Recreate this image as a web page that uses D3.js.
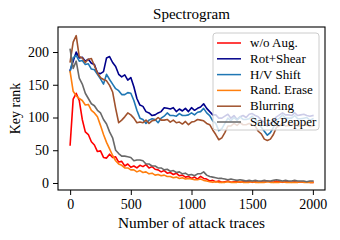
<!DOCTYPE html>
<html><head><meta charset="utf-8">
<script src="https://cdn.jsdelivr.net/npm/d3@7"></script>
<style>body{margin:0;background:#fff}svg{display:block}text{font-family:"Liberation Serif","Times New Roman",serif;fill:#000}</style>
</head><body>
<script>
const title = "Spectrogram";
const xLabel = "Number of attack traces";
const yLabel = "Key rank";
const xTicks = [0, 500, 1000, 1500, 2000];
const yTicks = [0, 50, 100, 150, 200];
const traces = d3.range(0, 2001, 25); // sample positions (number of traces)
const seriesNames = ["w/o Aug.", "Rot+Shear", "H/V Shift", "Rand. Erase", "Blurring", "Salt&Pepper"];
const seriesColors = ["#ff0000", "#00008b", "#1f77b4", "#ff7f0e", "#a0522d", "#696969"];

const woAug = [58,128,137,126,97,78,74,63,58,48,
 49,39,38,44,39,40,32,33,26,29,
 24,26,23,27,25,28,23,25,21,20,
 17,19,15,16,13,15,11,12,9,10,
 7,9,6,10,7,6,3,4,2,3,
 1,2,3,1,2,2,1,2,2,3,
 1,2,1,2,1,3,2,1,3,2,
 1,2,2,1,2,1,2,1,2,1,1];
const rotShear = [172,186,200,191,192,186,189,183,181,168,
 167,170,191,193,184,178,166,162,165,157,
 161,147,129,119,117,109,107,103,104,107,
 109,115,114,113,115,109,113,110,114,109,
 115,111,114,116,121,114,109,104,104,99,
 99,102,105,99,103,97,101,103,100,105,
 106,103,101,96,93,87,91,96,101,104,
 107,104,104,103,107,103,104,105,103,102,103];
const hvShift = [170,191,195,186,187,181,182,174,173,166,
 159,151,166,158,151,144,141,135,135,138,
 137,126,111,99,97,91,96,98,97,92,
 99,102,107,103,103,102,106,103,103,104,
 107,104,108,109,114,107,103,95,91,80,
 83,91,99,95,100,96,101,97,97,98,
 102,97,93,85,79,73,77,85,96,99,
 104,99,99,99,103,98,98,99,100,96,98];
const randErase = [170,140,133,129,126,119,120,111,107,101,
 88,74,62,52,42,34,29,27,23,23,
 20,20,17,19,16,17,14,15,12,13,
 11,12,10,10,8,9,7,8,6,7,
 6,5,5,6,4,3,2,1,2,1,
 1,1,2,1,1,1,2,1,1,1,
 2,1,1,1,1,2,1,1,1,1,
 2,1,1,1,1,1,2,1,1,1,1];
const blurring = [185,215,225,193,191,184,189,190,179,168,
 161,158,156,149,139,114,92,96,101,107,
 104,99,92,93,92,96,91,95,96,100,
 96,96,97,93,96,92,93,90,94,89,
 93,94,97,96,95,91,89,81,74,66,
 69,77,87,87,91,88,92,89,89,91,
 89,87,79,75,67,65,67,74,85,87,
 91,87,88,88,91,87,88,88,89,86,87];
const saltPepper = [204,175,186,160,151,137,129,121,118,111,
 107,97,90,78,69,50,45,41,41,40,
 39,34,35,35,34,29,29,26,26,23,
 23,20,21,18,19,16,17,14,15,12,
 13,11,14,14,17,12,10,9,8,7,
 7,6,5,6,5,4,5,4,3,4,
 3,4,3,3,4,3,3,4,5,4,
 3,4,3,3,4,3,3,3,2,3,3];
const seriesValues = [woAug, rotShear, hvShift, randErase, blurring, saltPepper];

const W = 340, H = 240;
const L = 58, R = 325, T = 27, B = 190;
const svg = d3.select("body").append("svg").attr("width", W).attr("height", H);
const x = d3.scaleLinear().domain([-100, 2100]).range([L, R]);
const y = d3.scaleLinear().domain([-10.7, 238.2]).range([B, T]);

svg.append("defs").append("clipPath").attr("id", "clip")
  .append("rect").attr("x", L).attr("y", T).attr("width", R - L).attr("height", B - T);

const line = d3.line().x((d, i) => x(traces[i])).y(d => y(d));
const g = svg.append("g").attr("clip-path", "url(#clip)");
seriesValues.forEach((vals, k) => {
  g.append("path").attr("d", line(vals)).attr("fill", "none")
    .attr("stroke", seriesColors[k]).attr("stroke-width", 1.6)
    .attr("stroke-linejoin", "round").attr("stroke-linecap", "square");
});

const xAxis = svg.append("g").attr("transform", `translate(0,${B})`)
  .call(d3.axisBottom(x).tickValues(xTicks).tickSize(5).tickPadding(4).tickFormat(d3.format("d")));
const yAxis = svg.append("g").attr("transform", `translate(${L},0)`)
  .call(d3.axisLeft(y).tickValues(yTicks).tickSize(5).tickPadding(4).tickFormat(d3.format("d")));
[xAxis, yAxis].forEach(a => {
  a.select(".domain").remove();
  a.selectAll("line").attr("stroke", "#000").attr("stroke-width", 1);
  a.selectAll("text").style("font-family", '"Liberation Serif", serif').style("font-size", "14px").attr("fill", "#000");
});

svg.append("rect").attr("x", L).attr("y", T).attr("width", R - L).attr("height", B - T)
  .attr("fill", "none").attr("stroke", "#000").attr("stroke-width", 1.1);

svg.append("text").attr("x", (L + R) / 2).attr("y", 19).attr("text-anchor", "middle")
  .style("font-size", "14px").attr("textLength", 77).attr("lengthAdjust", "spacingAndGlyphs").text(title);
svg.append("text").attr("x", (L + R) / 2).attr("y", 228).attr("text-anchor", "middle")
  .style("font-size", "14px").attr("textLength", 147).attr("lengthAdjust", "spacingAndGlyphs").text(xLabel);
svg.append("text").attr("transform", `translate(20,${(T + B) / 2}) rotate(-90)`).attr("text-anchor", "middle")
  .style("font-size", "14px").text(yLabel);

// legend
const lg = svg.append("g");
lg.append("rect").attr("x", 213).attr("y", 33).attr("width", 106).attr("height", 97).attr("rx", 3)
  .attr("fill", "#fff").attr("fill-opacity", 0.8).attr("stroke", "#ccc").attr("stroke-width", 1);
seriesNames.forEach((name, k) => {
  const cy = 43 + k * 15.8;
  lg.append("line").attr("x1", 217).attr("x2", 241).attr("y1", cy).attr("y2", cy)
    .attr("stroke", seriesColors[k]).attr("stroke-width", 1.5);
  lg.append("text").attr("x", 250).attr("y", cy + 4).style("font-size", "13px").text(name);
});
</script>
</body></html>
